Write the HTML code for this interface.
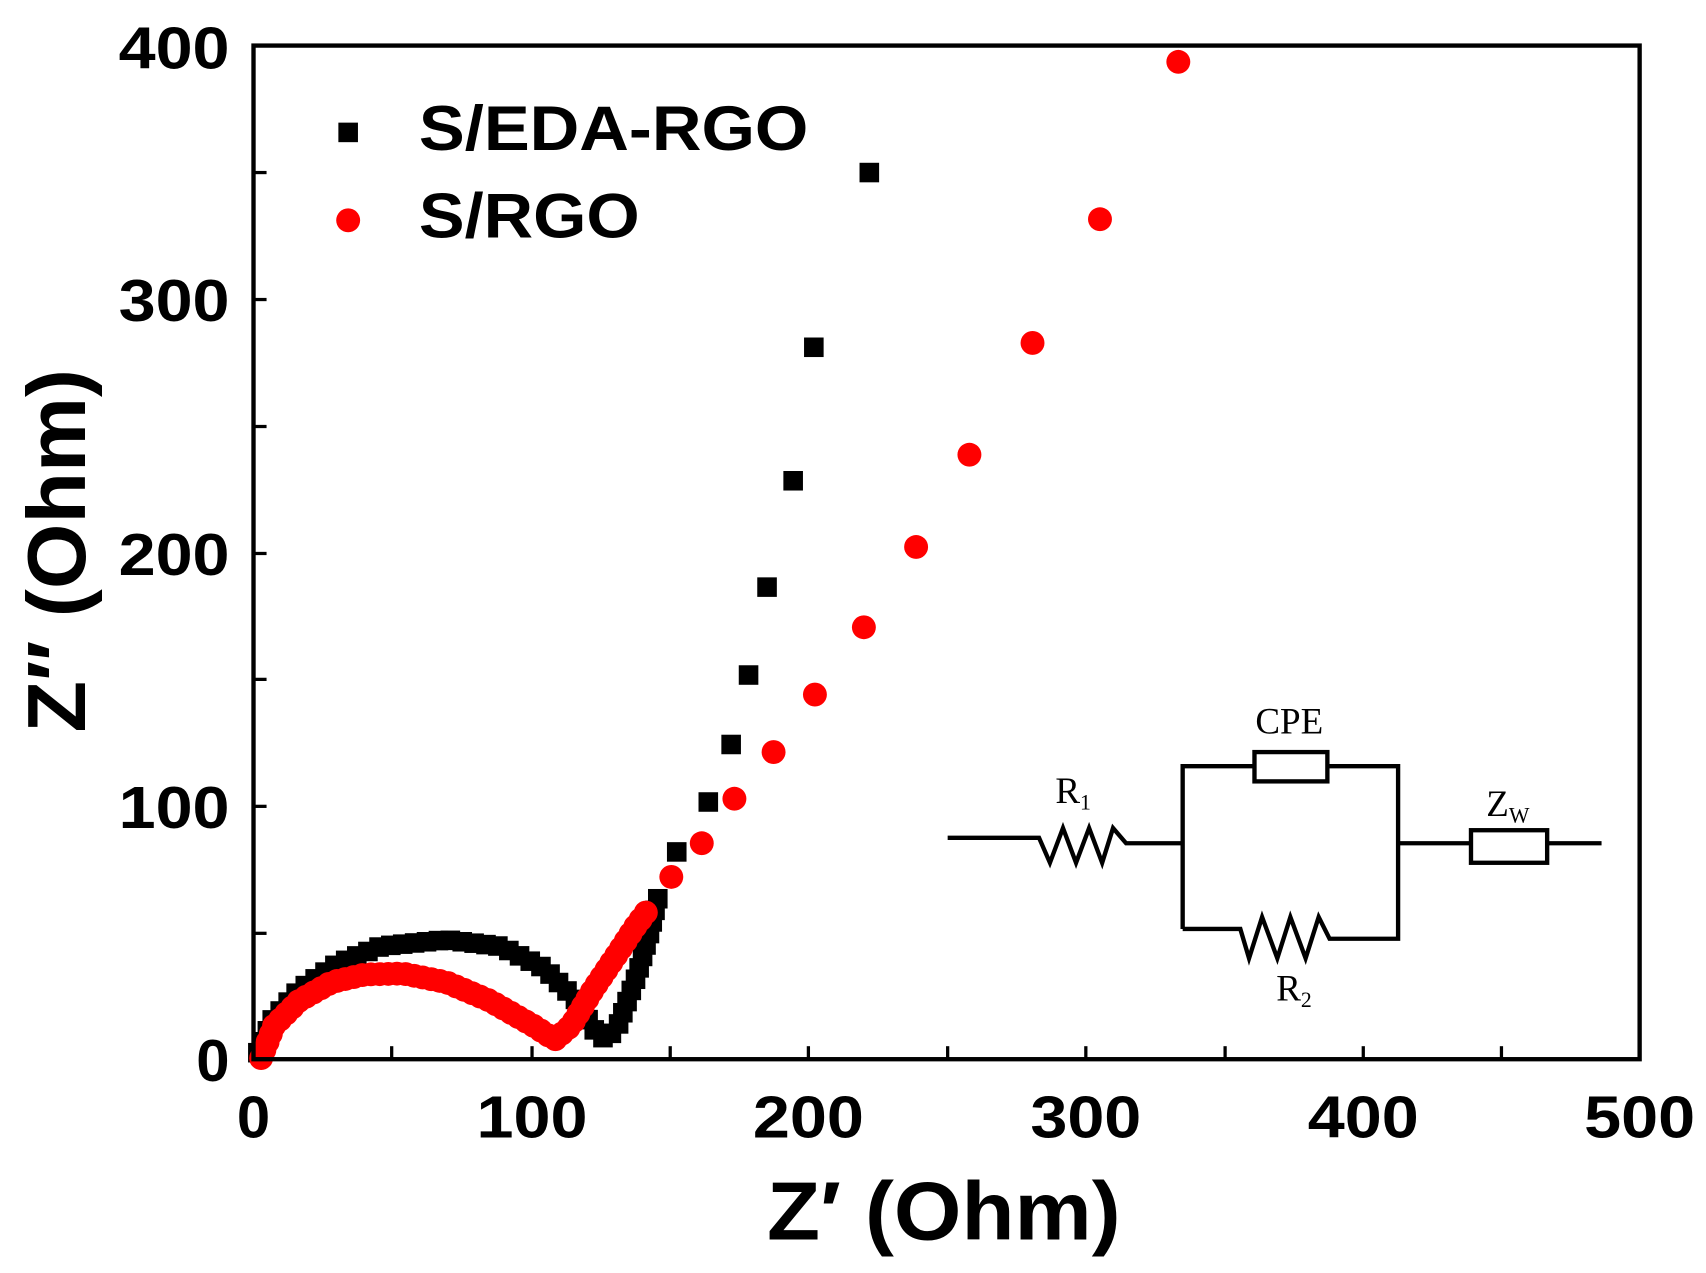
<!DOCTYPE html>
<html><head><meta charset="utf-8"><style>
html,body{margin:0;padding:0;background:#fff;}
svg{display:block;}
text{font-family:"Liberation Sans",sans-serif;font-weight:bold;fill:#000;}
.s{font-family:"Liberation Serif",serif;font-weight:normal;}
</style></head><body>
<svg id="c" width="1706" height="1273" viewBox="0 0 1568 1173" preserveAspectRatio="none" xmlns="http://www.w3.org/2000/svg">
<rect x="0" y="0" width="1568" height="1173" fill="#fff"/>
<g id="data"></g>
<rect x="233" y="42" width="1274" height="934" fill="none" stroke="#000" stroke-width="4"/>
<g stroke="#000" stroke-width="3">
<line x1="233" y1="860" x2="245" y2="860"/>
<line x1="233" y1="743" x2="245" y2="743"/>
<line x1="233" y1="626" x2="245" y2="626"/>
<line x1="233" y1="510" x2="245" y2="510"/>
<line x1="233" y1="393" x2="245" y2="393"/>
<line x1="233" y1="276" x2="245" y2="276"/>
<line x1="233" y1="159" x2="245" y2="159"/>
<line x1="360" y1="976" x2="360" y2="964"/>
<line x1="489" y1="976" x2="489" y2="964"/>
<line x1="616" y1="976" x2="616" y2="964"/>
<line x1="743" y1="976" x2="743" y2="964"/>
<line x1="871" y1="976" x2="871" y2="964"/>
<line x1="998" y1="976" x2="998" y2="964"/>
<line x1="1126" y1="976" x2="1126" y2="964"/>
<line x1="1253" y1="976" x2="1253" y2="964"/>
<line x1="1380" y1="976" x2="1380" y2="964"/>
</g>
<g font-size="55" text-anchor="end">
<text x="211" y="996">0</text>
<text x="211" y="763" textLength="102" lengthAdjust="spacingAndGlyphs">100</text>
<text x="211" y="530" textLength="102" lengthAdjust="spacingAndGlyphs">200</text>
<text x="211" y="296" textLength="102" lengthAdjust="spacingAndGlyphs">300</text>
<text x="211" y="63" textLength="102" lengthAdjust="spacingAndGlyphs">400</text>
</g>
<g font-size="55" text-anchor="middle">
<text x="233" y="1048">0</text>
<text x="489" y="1048" textLength="102" lengthAdjust="spacingAndGlyphs">100</text>
<text x="743" y="1048" textLength="102" lengthAdjust="spacingAndGlyphs">200</text>
<text x="998" y="1048" textLength="102" lengthAdjust="spacingAndGlyphs">300</text>
<text x="1253" y="1048" textLength="102" lengthAdjust="spacingAndGlyphs">400</text>
<text x="1507" y="1048" textLength="102" lengthAdjust="spacingAndGlyphs">500</text>
</g>
<text x="705" y="1142" font-size="76" textLength="325" lengthAdjust="spacingAndGlyphs">Z′ (Ohm)</text>
<text transform="translate(78,675) rotate(-90)" font-size="76" textLength="335" lengthAdjust="spacingAndGlyphs">Z″ (Ohm)</text>
<rect x="311" y="113" width="18" height="18" fill="#000"/>
<text x="385" y="138" font-size="58" textLength="358" lengthAdjust="spacingAndGlyphs">S/EDA-RGO</text>
<circle cx="320" cy="203" r="11" fill="#f00"/>
<text x="385" y="219" font-size="58" textLength="203" lengthAdjust="spacingAndGlyphs">S/RGO</text>
<g fill="none" stroke="#000" stroke-width="4">
<polyline points="871,772 955,772 965,795 977,763 989,795 1001,763 1013,795 1023,763 1035,777 1087,777"/>
<polyline points="1087,856 1087,706 1153,706"/>
<rect x="1153" y="693" width="67" height="27"/>
<polyline points="1220,706 1285,706 1285,865 1222,865 1212,845 1200,883 1186,845 1174,883 1160,845 1148,883 1140,856 1087,856"/>
<polyline points="1285,777 1352,777"/>
<rect x="1352" y="765" width="70" height="30"/>
<line x1="1422" y1="777" x2="1472" y2="777"/>
</g>
<text class="s" x="1185" y="676" font-size="34" text-anchor="middle">CPE</text>
<text class="s" x="970" y="740" font-size="34">R<tspan font-size="20" dy="6">1</tspan></text>
<text class="s" x="1366" y="752" font-size="34">Z<tspan font-size="20" dy="6">W</tspan></text>
<text class="s" x="1173" y="922" font-size="34">R<tspan font-size="20" dy="6">2</tspan></text>
</svg>
<script>
var g=document.getElementById('data'),NS="http://www.w3.org/2000/svg";
function sample(pts,step){var out=[pts[0]];var acc=0;for(var i=1;i<pts.length;i++){var a=pts[i-1],b=pts[i];var dx=b[0]-a[0],dy=b[1]-a[1],L=Math.hypot(dx,dy);var t=step-acc;while(t<=L){out.push([a[0]+dx*t/L,a[1]+dy*t/L]);t+=step;}acc=L-(t-step);}return out;}
function sq(x,y){var r=document.createElementNS(NS,'rect');r.setAttribute('x',x-9);r.setAttribute('y',y-9);r.setAttribute('width',18);r.setAttribute('height',18);r.setAttribute('fill','#000');g.appendChild(r);}
function ci(x,y){var c=document.createElementNS(NS,'circle');c.setAttribute('cx',x);c.setAttribute('cy',y);c.setAttribute('r',11);c.setAttribute('fill','#f00');g.appendChild(c);}
var bk=[[237,970],[250,940],[275,912],[310,888],[350,872],[410,866],[460,872],[500,892],[530,922],[548,952],[557,958],[568,945],[585,900],[597,860],[607,818]];
sample(bk,11).forEach(function(p){sq(p[0],p[1]);});
[[622,785],[651,739],[672,686],[688,622],[705,541],[729,443],[748,320],[799,159]].forEach(function(p){sq(p[0],p[1]);});
var rd=[[240,975],[252,945],[275,922],[305,905],[335,898],[370,897],[410,905],[450,922],[490,945],[510,958],[525,945],[545,912],[570,875],[583,855],[598,835]];
sample(rd,8).forEach(function(p){ci(p[0],p[1]);});
[[617,808],[645,777],[675,736],[711,693],[749,640],[794,578],[842,504],[891,419],[949,316],[1011,202],[1083,57]].forEach(function(p){ci(p[0],p[1]);});
</script>
</body></html>
